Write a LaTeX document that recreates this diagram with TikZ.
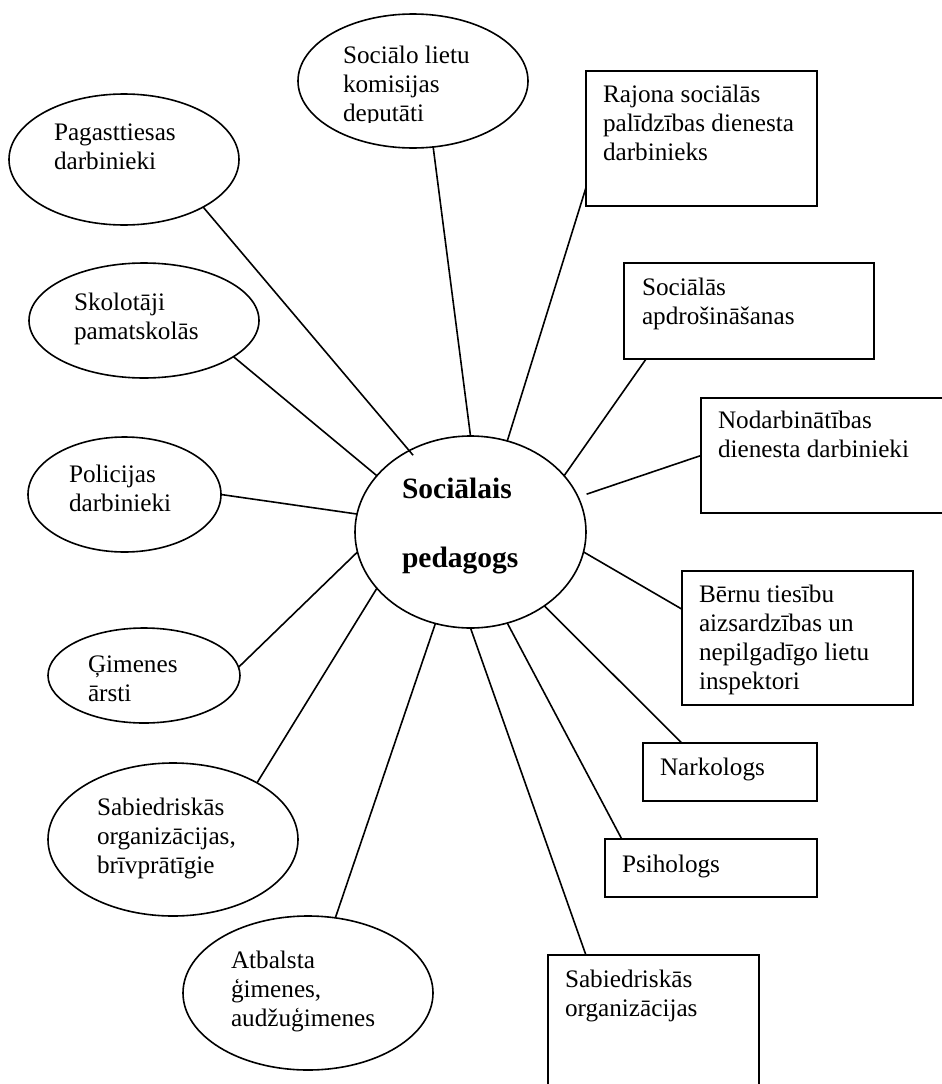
\documentclass[tikz,border=0pt]{standalone}
\usepackage{fontspec}
\setmainfont{Liberation Serif}
\usetikzlibrary{shapes.geometric}
\newcommand\lbltext[1]{\parbox[t]{300pt}{\fontsize{25.2}{29}\selectfont #1}}
\begin{document}
\begin{tikzpicture}[x=1pt,y=-1pt,
  ell/.style={ellipse, draw, line width=1.6pt, inner sep=0pt, outer sep=0pt},
  boxnode/.style={rectangle, draw, line width=1.6pt, inner sep=0pt, outer sep=0pt},
  txt/.style={anchor=base west, inner sep=0pt, outer sep=0pt},
  conn/.style={line width=1.6pt}]
\useasboundingbox (0,0) rectangle (942,1084);
\clip (0,0) rectangle (942,1084);

% centre
\node[ell, minimum width=231pt, minimum height=192pt] (c) at (470.5,532) {};
\node[txt] (ctext) at (402,498) {\parbox[t]{300pt}{\fontsize{29.5}{69}\selectfont\bfseries Sociālais\\pedagogs}};

% left ellipses
\node[ell, minimum width=230pt, minimum height=134pt] (soc) at (413,81) {};
\begin{scope}
\clip (0,0) rectangle (942,122);
\node[txt] (soct) at (343,63) {\lbltext{Sociālo lietu\\komisijas\\deputāti}};
\end{scope}

\node[ell, minimum width=230pt, minimum height=131pt] (pag) at (124,159.5) {};
\node[txt] (pagt) at (54,140) {\lbltext{Pagasttiesas\\darbinieki}};

\node[ell, minimum width=230pt, minimum height=115pt] (sko) at (144,320.5) {};
\node[txt] (skot) at (74,310) {\lbltext{Skolotāji\\pamatskolās}};

\node[ell, minimum width=193pt, minimum height=115pt] (pol) at (124.5,494.5) {};
\node[txt] (polt) at (69,482) {\lbltext{Policijas\\darbinieki}};

\node[ell, minimum width=192pt, minimum height=95pt] (gim) at (144,675.5) {};
\node[txt] (gimt) at (88,672) {\lbltext{Ģimenes\\ārsti}};

\node[ell, minimum width=250pt, minimum height=153pt] (sab) at (173,839.5) {};
\node[txt] (sabt) at (97,815) {\lbltext{Sabiedriskās\\organizācijas,\\brīvprātīgie}};

\node[ell, minimum width=250pt, minimum height=154pt] (atb) at (308,993) {};
\node[txt] (atbt) at (231,968) {\lbltext{Atbalsta\\ģimenes,\\audžuģimenes}};

% right boxes
\node[boxnode, minimum width=231pt, minimum height=135pt] (raj) at (701.5,138.5) {};
\node[txt] (rajt) at (603,102) {\lbltext{Rajona sociālās\\palīdzības dienesta\\darbinieks}};

\node[boxnode, minimum width=250pt, minimum height=96pt] (apd) at (749,311) {};
\node[txt] (apdt) at (642,295) {\lbltext{Sociālās\\apdrošināšanas}};

\node[boxnode, minimum width=259pt, minimum height=115pt] (nod) at (830.5,455.5) {};
\node[txt] (nodt) at (718,428) {\lbltext{Nodarbinātības\\dienesta darbinieki}};

\node[boxnode, minimum width=231pt, minimum height=134pt] (ber) at (797.5,638) {};
\node[txt] (bert) at (699,602) {\lbltext{Bērnu tiesību\\aizsardzības un\\nepilgadīgo lietu\\inspektori}};

\node[boxnode, minimum width=174pt, minimum height=58pt] (nar) at (730,772) {};
\node[txt] (nart) at (660,775) {\lbltext{Narkologs}};

\node[boxnode, minimum width=212pt, minimum height=58pt] (psi) at (711,868) {};
\node[txt] (psit) at (622,872) {\lbltext{Psihologs}};

\node[boxnode, minimum width=211pt, minimum height=145pt] (sbo) at (653.5,1027.5) {};
\node[txt] (sbot) at (565,987) {\lbltext{Sabiedriskās\\organizācijas}};

% connectors
\draw[conn] (soc.-73) -- (c.90);
\draw[conn, shorten >=-6pt] (pag.-31) -- (c.127);
\draw[conn] (sko.-22) -- (c.149);
\draw[conn] (pol.0) -- (c.171);
\draw[conn] (gim.5) -- (c.-170);
\draw[conn] (sab.34) -- (c.-149);
\draw[conn] (atb.70) -- (c.-111);
\draw[conn] (raj.-157) -- (c.68);
\draw[conn] (apd.-155) -- (c.31);
\draw[conn, shorten >=9pt] (nod.180) -- (c.18);
\draw[conn] (ber.166) -- (c.-10);
\draw[conn] (nar.149) -- (c.-45);
\draw[conn] (psi.162) -- (c.-68);
\draw[conn] (sbo.133) -- (c.-90);
\end{tikzpicture}
\end{document}
